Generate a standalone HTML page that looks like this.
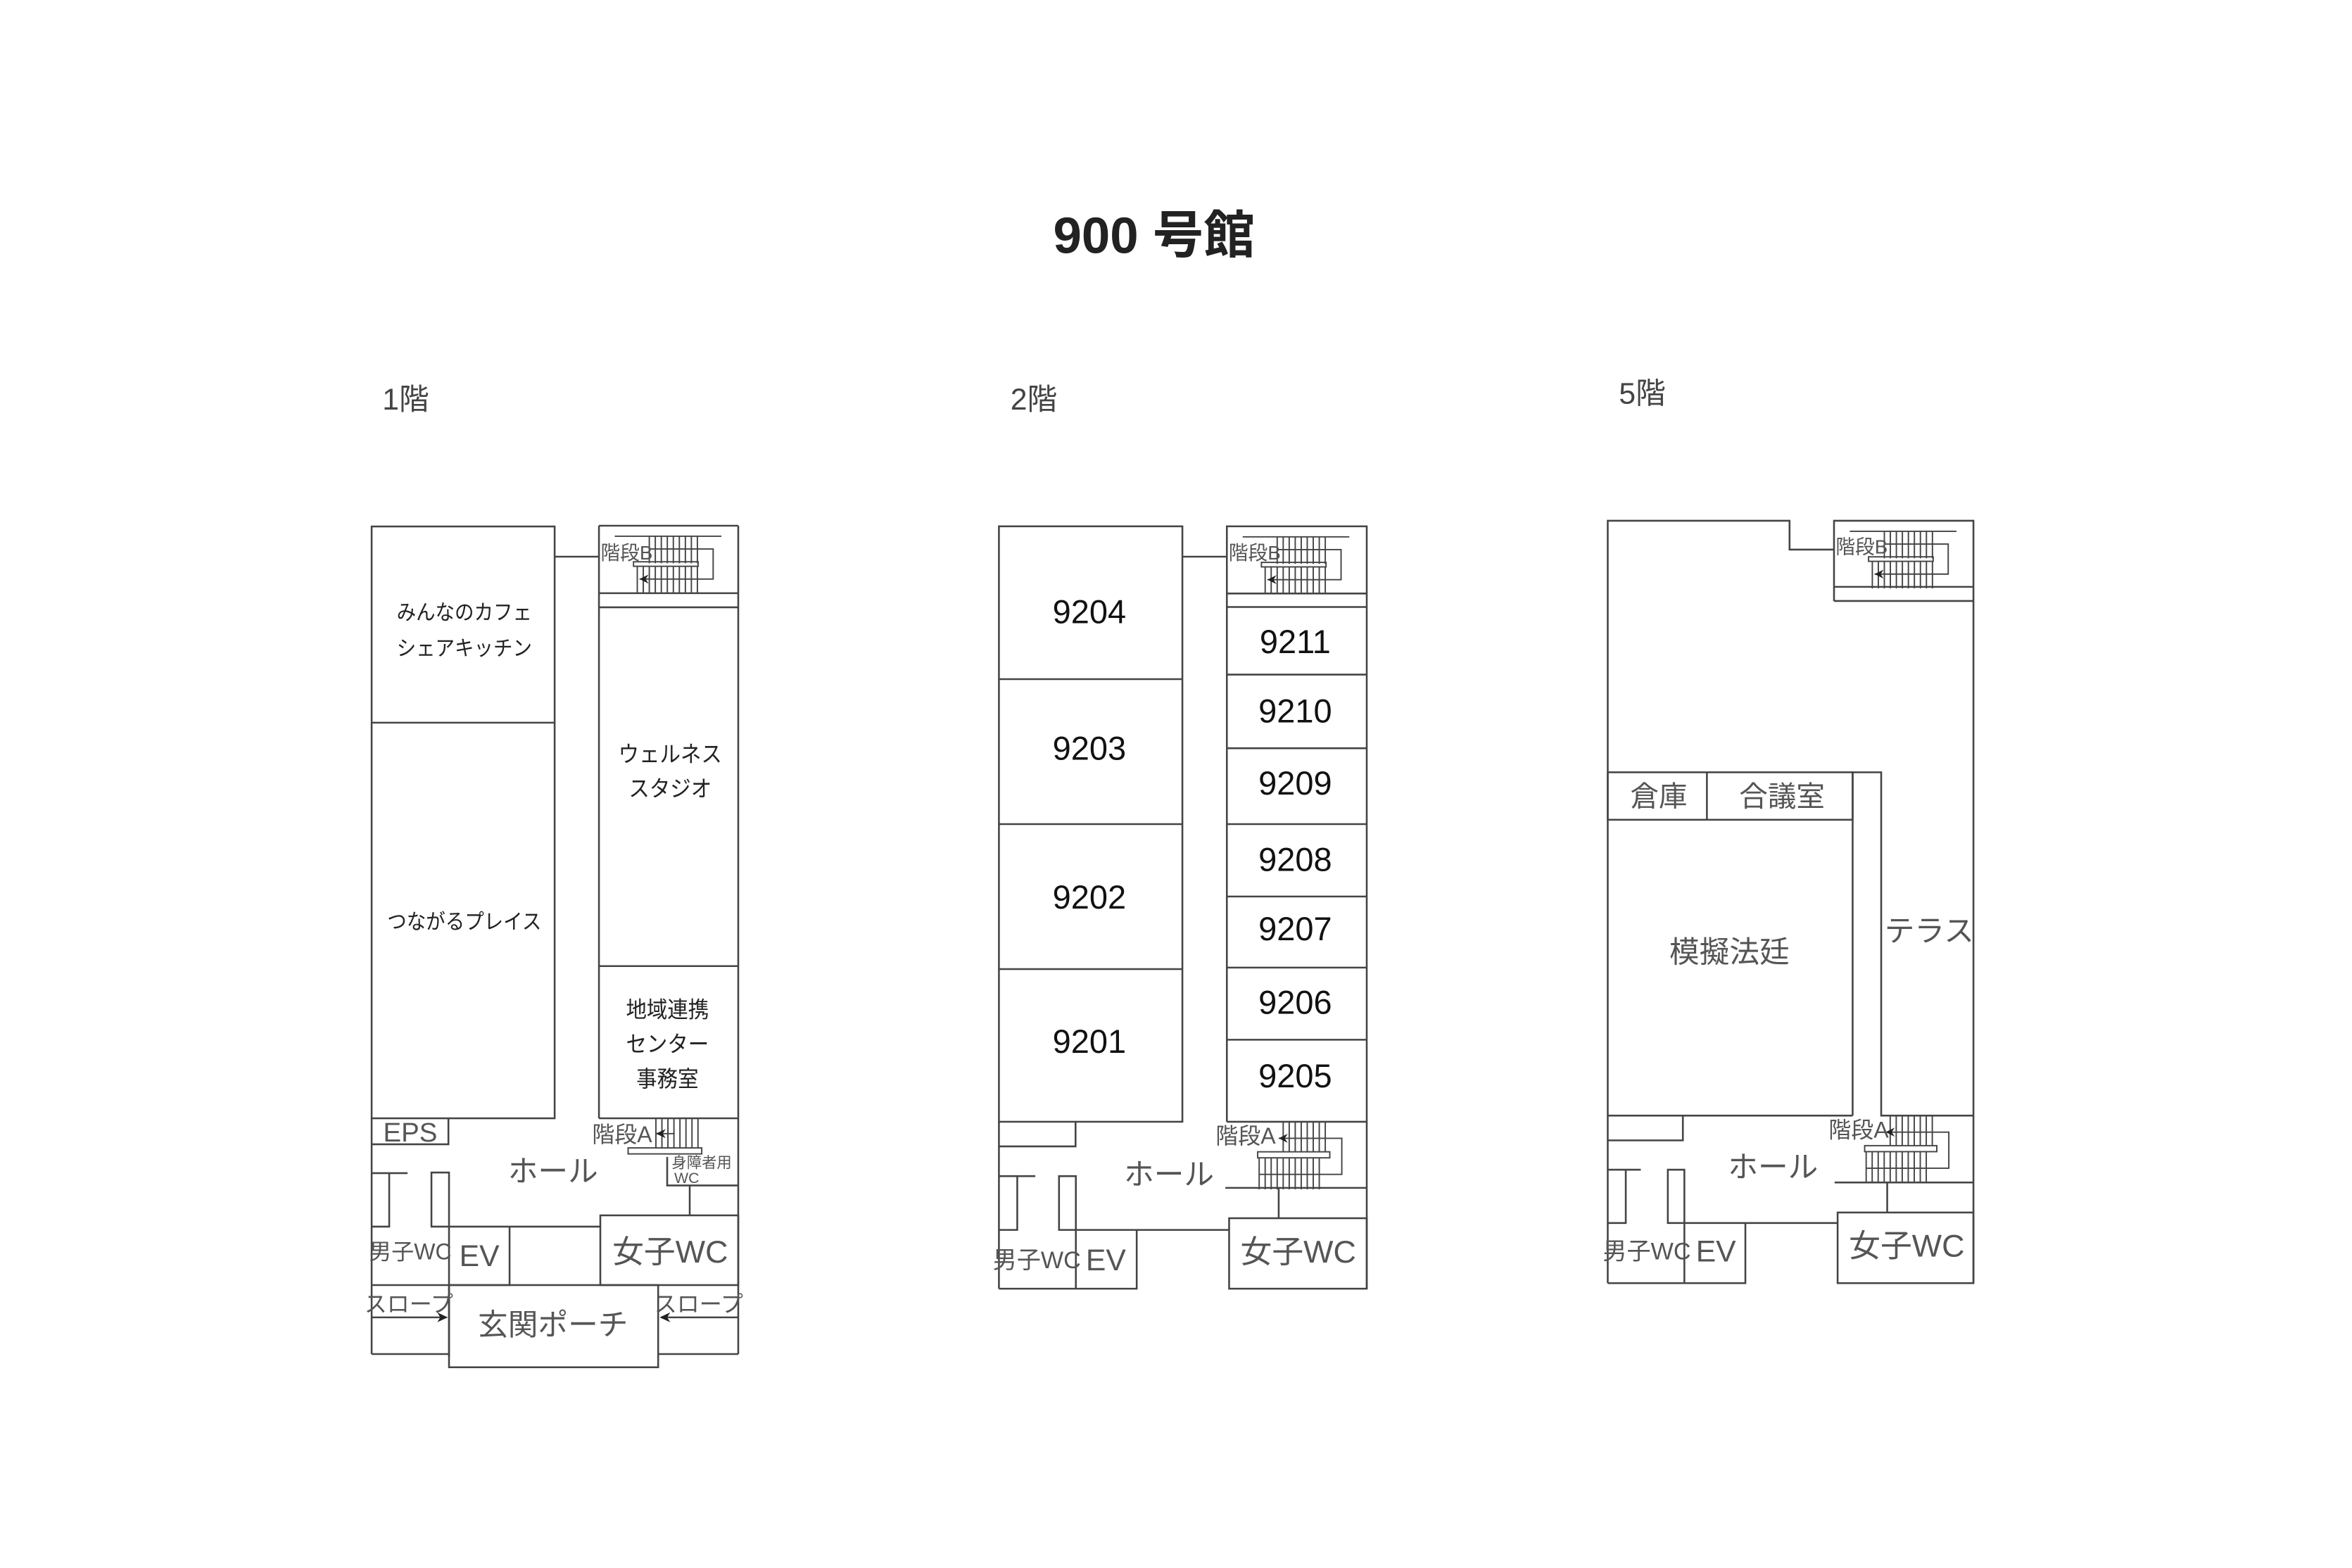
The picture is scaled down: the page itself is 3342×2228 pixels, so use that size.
<!DOCTYPE html>
<html><head><meta charset="utf-8"><style>
html,body{margin:0;padding:0;background:#fff;}
svg{display:block;}
text{font-family:"Liberation Sans","Noto Sans CJK JP",sans-serif;dominant-baseline:central;text-anchor:middle;}
.g{fill:#555;}
.k{fill:#222;}
.n{fill:#111;font-size:22px;}
</style></head><body>
<svg width="3342" height="2228" viewBox="0 0 1565.3 1043.6" xmlns="http://www.w3.org/2000/svg">
<defs>
<g id="stB" stroke="#444" stroke-width="0.9" fill="none">
  <line x1="10.5" y1="7" x2="81.5" y2="7"/>
  <g>
   <line x1="33.5" y1="7" x2="33.5" y2="25"/><line x1="37.5" y1="7" x2="37.5" y2="25"/><line x1="41.5" y1="7" x2="41.5" y2="25"/><line x1="45.5" y1="7" x2="45.5" y2="25"/><line x1="49.5" y1="7" x2="49.5" y2="25"/><line x1="53.5" y1="7" x2="53.5" y2="25"/><line x1="57.5" y1="7" x2="57.5" y2="25"/><line x1="61.5" y1="7" x2="61.5" y2="25"/><line x1="65.5" y1="7" x2="65.5" y2="25"/>
  </g>
  <rect x="23" y="24" width="43" height="3"/>
  <line x1="25.5" y1="27" x2="25.5" y2="45"/><line x1="29.5" y1="27" x2="29.5" y2="45"/><line x1="33.5" y1="27" x2="33.5" y2="45"/><line x1="37.5" y1="27" x2="37.5" y2="45"/><line x1="41.5" y1="27" x2="41.5" y2="45"/><line x1="45.5" y1="27" x2="45.5" y2="45"/><line x1="49.5" y1="27" x2="49.5" y2="45"/><line x1="53.5" y1="27" x2="53.5" y2="45"/><line x1="57.5" y1="27" x2="57.5" y2="45"/><line x1="61.5" y1="27" x2="61.5" y2="45"/><line x1="65.5" y1="27" x2="65.5" y2="45"/>
  <polyline points="33.5,15.5 76,15.5 76,35.5 27,35.5"/>
  <path d="M27,35.5 L33,32.5 L31,35.5 L33,38.5 Z" fill="#222" stroke="none"/>
</g>
<g id="stA" stroke="#444" stroke-width="0.9" fill="none">
  <line x1="17" y1="0" x2="17" y2="20"/><line x1="21" y1="0" x2="21" y2="20"/><line x1="25" y1="0" x2="25" y2="20"/><line x1="29" y1="0" x2="29" y2="20"/><line x1="33" y1="0" x2="33" y2="20"/><line x1="37" y1="0" x2="37" y2="20"/><line x1="41" y1="0" x2="41" y2="20"/><line x1="45" y1="0" x2="45" y2="20"/>
  <rect x="0" y="20" width="48" height="4"/>
  <line x1="1" y1="24" x2="1" y2="45"/><line x1="5" y1="24" x2="5" y2="45"/><line x1="9" y1="24" x2="9" y2="45"/><line x1="13" y1="24" x2="13" y2="45"/><line x1="17" y1="24" x2="17" y2="45"/><line x1="21" y1="24" x2="21" y2="45"/><line x1="25" y1="24" x2="25" y2="45"/><line x1="29" y1="24" x2="29" y2="45"/><line x1="33" y1="24" x2="33" y2="45"/><line x1="37" y1="24" x2="37" y2="45"/><line x1="41" y1="24" x2="41" y2="45"/>
  <polyline points="14,11 56,11 56,35 1,35"/>
  <path d="M14,11 L20,8 L18,11 L20,14 Z" fill="#222" stroke="none"/>
</g>
</defs>

<text x="768" y="157" style="font-size:34px;font-weight:bold" fill="#222">900 号館</text>
<text x="270" y="266" style="font-size:20px" fill="#444">1階</text>
<text x="688" y="266" style="font-size:20px" fill="#444">2階</text>
<text x="1093" y="262" style="font-size:20px" fill="#444">5階</text>

<!-- FLOOR 1 -->
<g stroke="#444" stroke-width="1.2" fill="none">
  <rect x="247.3" y="350.4" width="121.8" height="393.9"/>
  <line x1="247.3" y1="481" x2="369.1" y2="481"/>
  <line x1="369.1" y1="370.5" x2="398.6" y2="370.5"/>
  <line x1="398.6" y1="349.9" x2="398.6" y2="744.3"/>
  <line x1="398.6" y1="349.9" x2="491.3" y2="349.9"/>
  <line x1="491.3" y1="349.9" x2="491.3" y2="901.2"/>
  <line x1="398.6" y1="394.8" x2="491.3" y2="394.8"/>
  <line x1="398.6" y1="404.2" x2="491.3" y2="404.2"/>
  <line x1="398.6" y1="643" x2="491.3" y2="643"/>
  <line x1="398.6" y1="744.3" x2="491.3" y2="744.3"/>
  <line x1="247.3" y1="744.3" x2="247.3" y2="901.2"/>
  <polyline points="247.3,761.6 298.4,761.6 298.4,744.3"/>
  <polyline points="247.3,780.8 271.2,780.8"/><polyline points="259,780.8 259,816.4 247.3,816.4"/>
  <polyline points="298.8,903 298.8,780.4 287.1,780.4 287.1,816.4 298.8,816.4"/>
  <line x1="298.8" y1="816.4" x2="399.5" y2="816.4"/>
  <polyline points="298.8,855.3 339.1,855.3 339.1,816.4"/>
  <line x1="247.3" y1="855.3" x2="298.8" y2="855.3"/>
  <rect x="399.5" y="808.9" width="91.8" height="46.4"/>
  <line x1="459" y1="789" x2="459" y2="808.9"/>
  <polyline points="444,770 444,789 491.3,789"/>
  <line x1="247.3" y1="876.8" x2="297" y2="876.8"/>
  <line x1="247.3" y1="901.2" x2="298.8" y2="901.2"/>
  <rect x="298.8" y="855.3" width="139.2" height="54.7"/>
  <line x1="440" y1="876.8" x2="491.3" y2="876.8"/>
  <line x1="438" y1="901.2" x2="491.3" y2="901.2"/>
</g>
<path d="M298,876.8 L291,873.5 L293,876.8 L291,880 Z" fill="#222"/>
<path d="M439,876.8 L446,873.5 L444,876.8 L446,880 Z" fill="#222"/>
<use href="#stB" x="398.6" y="349.9"/>
<g stroke="#444" stroke-width="0.9" fill="none">
  <line x1="436.5" y1="744.3" x2="436.5" y2="764"/><line x1="440.5" y1="744.3" x2="440.5" y2="764"/><line x1="444.5" y1="744.3" x2="444.5" y2="764"/><line x1="448.5" y1="744.3" x2="448.5" y2="764"/><line x1="452.5" y1="744.3" x2="452.5" y2="764"/><line x1="456.5" y1="744.3" x2="456.5" y2="764"/><line x1="460.5" y1="744.3" x2="460.5" y2="764"/><line x1="464.5" y1="744.3" x2="464.5" y2="764"/>
  <line x1="436.5" y1="754.5" x2="449" y2="754.5"/>
  <rect x="418" y="764" width="49" height="4"/>
</g>
<path d="M436.5,754.5 L443,751.5 L441,754.5 L443,757.5 Z" fill="#222"/>
<text x="417" y="368" class="g" style="font-size:13px">階段B</text>
<text x="414" y="755" class="g" style="font-size:15px">階段A</text>
<text x="467" y="774" class="g" style="font-size:10px">身障者用</text>
<text x="457" y="784" class="g" style="font-size:10px">WC</text>
<g transform="translate(309 0) scale(0.92 1) translate(-309 0)">
<text x="309" y="408" class="k" style="font-size:14px">みんなのカフェ</text>
<text x="309" y="432" class="k" style="font-size:14px">シェアキッチン</text>
<text x="309" y="614" class="k" style="font-size:14px">つながるプレイス</text>
</g>
<g transform="translate(446 0) scale(0.92 1) translate(-446 0)">
<text x="446" y="502" class="k" style="font-size:15px">ウェルネス</text>
<text x="446" y="525" class="k" style="font-size:15px">スタジオ</text>
<text x="444" y="672" class="k" style="font-size:15px">地域連携</text>
<text x="444" y="695" class="k" style="font-size:15px">センター</text>
<text x="444" y="718" class="k" style="font-size:15px">事務室</text>
</g>
<text x="273" y="754" class="g" style="font-size:18px">EPS</text>
<text x="368" y="780" class="g" style="font-size:20px">ホール</text>
<text x="273" y="833" class="g" style="font-size:15px">男子WC</text>
<text x="319" y="836" class="g" style="font-size:20px">EV</text>
<text x="446" y="833" class="g" style="font-size:21px">女子WC</text>
<text x="272" y="868" class="g" style="font-size:15px">スロープ</text>
<text x="465" y="868" class="g" style="font-size:15px">スロープ</text>
<text x="368" y="882" class="g" style="font-size:20px">玄関ポーチ</text>

<!-- FLOOR 2 -->
<g stroke="#444" stroke-width="1.2" fill="none">
  <rect x="664.8" y="350.3" width="122.1" height="396.3"/>
  <line x1="664.8" y1="452" x2="786.9" y2="452"/>
  <line x1="664.8" y1="548.5" x2="786.9" y2="548.5"/>
  <line x1="664.8" y1="645" x2="786.9" y2="645"/>
  <line x1="786.9" y1="370.5" x2="816.5" y2="370.5"/>
  <polyline points="816.5,746.6 816.5,350.3 909.6,350.3 909.6,857.7"/>
  <line x1="816.5" y1="395" x2="909.6" y2="395"/>
  <line x1="816.5" y1="404" x2="909.6" y2="404"/>
  <line x1="816.5" y1="449" x2="909.6" y2="449"/>
  <line x1="816.5" y1="498" x2="909.6" y2="498"/>
  <line x1="816.5" y1="548.5" x2="909.6" y2="548.5"/>
  <line x1="816.5" y1="596.7" x2="909.6" y2="596.7"/>
  <line x1="816.5" y1="644" x2="909.6" y2="644"/>
  <line x1="816.5" y1="692" x2="909.6" y2="692"/>
  <line x1="816.5" y1="746.6" x2="909.6" y2="746.6"/>
  <line x1="664.8" y1="746.6" x2="664.8" y2="857.7"/>
  <polyline points="664.8,763 715.8,763 715.8,746.6"/>
  <line x1="664.8" y1="782.8" x2="689" y2="782.8"/>
  <polyline points="677,782.8 677,818.6 664.8,818.6"/>
  <polyline points="716,857.7 716,782.8 704.8,782.8 704.8,818.6 716,818.6"/>
  <line x1="716" y1="818.6" x2="818" y2="818.6"/>
  <polyline points="664.8,857.7 756.5,857.7 756.5,818.6"/>
  <rect x="818" y="810.8" width="91.6" height="46.9"/>
  <line x1="851" y1="790.6" x2="851" y2="810.8"/>
  <line x1="815.5" y1="790.6" x2="909.6" y2="790.6"/>
</g>
<use href="#stB" x="816.5" y="350.3"/>
<use href="#stA" x="837" y="746.6"/>
<text x="835" y="368" class="g" style="font-size:13px">階段B</text>
<text x="829" y="756" class="g" style="font-size:15px">階段A</text>
<text x="725" y="407" class="n">9204</text>
<text x="725" y="498" class="n">9203</text>
<text x="725" y="597" class="n">9202</text>
<text x="725" y="693" class="n">9201</text>
<text x="862" y="427" class="n">9211</text>
<text x="862" y="473" class="n">9210</text>
<text x="862" y="521" class="n">9209</text>
<text x="862" y="572" class="n">9208</text>
<text x="862" y="618" class="n">9207</text>
<text x="862" y="667" class="n">9206</text>
<text x="862" y="716" class="n">9205</text>
<text x="778" y="782" class="g" style="font-size:20px">ホール</text>
<text x="690" y="839" class="g" style="font-size:16px">男子WC</text>
<text x="736" y="839" class="g" style="font-size:20px">EV</text>
<text x="864" y="833" class="g" style="font-size:21px">女子WC</text>

<!-- FLOOR 5 -->
<g stroke="#444" stroke-width="1.2" fill="none">
  <polyline points="1070,854 1070,346.6 1191,346.6 1191,365.8 1220.6,365.8"/>
  <polyline points="1220.6,400 1220.6,346.6 1313.4,346.6 1313.4,854"/>
  <line x1="1220.6" y1="390.6" x2="1313.4" y2="390.6"/>
  <line x1="1220.6" y1="400" x2="1313.4" y2="400"/>
  <rect x="1070" y="514" width="163" height="31.6"/>
  <line x1="1136" y1="514" x2="1136" y2="545.6"/>
  <polyline points="1233,742.5 1233,514 1252,514 1252,742.5 1313.4,742.5"/>
  <line x1="1070" y1="742.5" x2="1233" y2="742.5"/>
  <polyline points="1070,759 1120,759 1120,742.5"/>
  <line x1="1070" y1="778.5" x2="1092" y2="778.5"/>
  <polyline points="1082,778.5 1082,814 1070,814"/>
  <polyline points="1121,854 1121,778.5 1110,778.5 1110,814 1121,814"/>
  <line x1="1121" y1="814" x2="1223" y2="814"/>
  <polyline points="1070,854 1161.6,854 1161.6,814"/>
  <rect x="1223" y="807" width="90.4" height="47"/>
  <line x1="1256" y1="787" x2="1256" y2="807"/>
  <line x1="1221" y1="787" x2="1313.4" y2="787"/>
</g>
<use href="#stB" x="1220.6" y="346.6"/>
<use href="#stA" x="1241" y="742.5"/>
<text x="1239" y="364" class="g" style="font-size:13px">階段B</text>
<text x="1237" y="752" class="g" style="font-size:15px">階段A</text>
<text x="1104" y="530" class="g" style="font-size:19px">倉庫</text>
<text x="1186" y="530" class="g" style="font-size:19px">合議室</text>
<text x="1151" y="634" class="g" style="font-size:20px">模擬法廷</text>
<text x="1284" y="620" class="g" style="font-size:20px">テラス</text>
<text x="1180" y="777" class="g" style="font-size:20px">ホール</text>
<text x="1096" y="833" class="g" style="font-size:16px">男子WC</text>
<text x="1142" y="833" class="g" style="font-size:20px">EV</text>
<text x="1269" y="829" class="g" style="font-size:21px">女子WC</text>
</svg>
</body></html>
